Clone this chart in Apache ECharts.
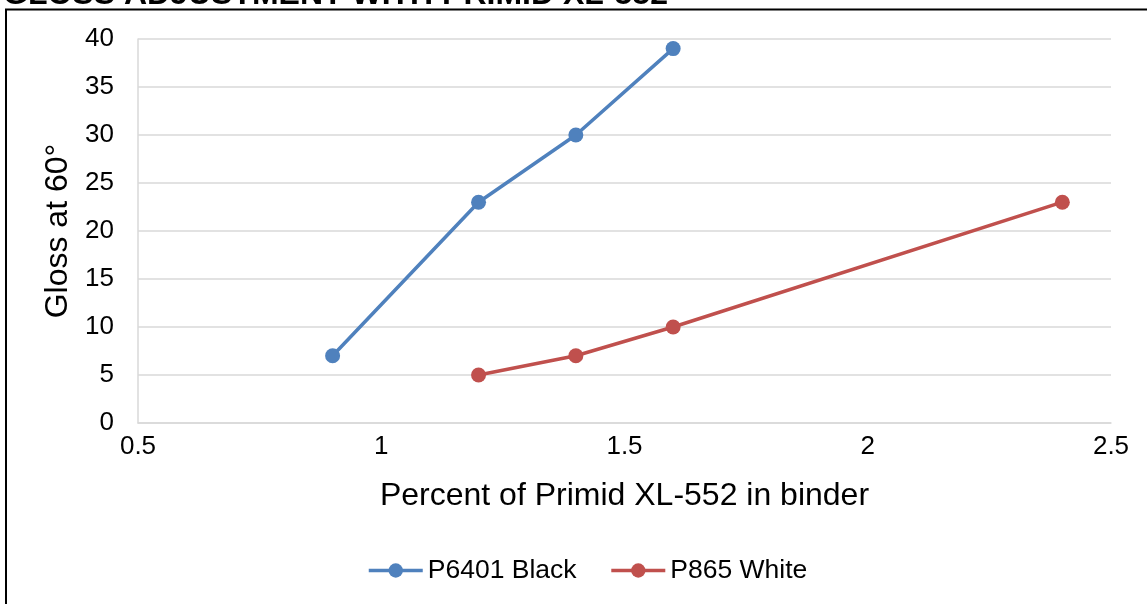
<!DOCTYPE html>
<html>
<head>
<meta charset="utf-8">
<script src="https://cdn.jsdelivr.net/npm/echarts@6/dist/echarts.min.js"></script>
<style>
html,body{margin:0;padding:0;background:#fff;}
#chart{width:1147px;height:604px;}
</style>
</head>
<body>
<div id="chart"></div>
<script>
const titleText = 'GLOSS ADJUSTMENT WITH PRIMID XL-552';
const xAxisName = 'Percent of Primid XL-552 in binder';
const yAxisName = 'Gloss at 60°';
const seriesNames = ['P6401 Black', 'P865 White'];
const blackX = [0.9, 1.2, 1.4, 1.6];
const blackY = [7, 23, 30, 39];
const whiteX = [1.2, 1.4, 1.6, 2.4];
const whiteY = [5, 7, 10, 23];
const colors = ['#4F81BD', '#C0504D'];

const font = 'Liberation Sans, Arial, sans-serif';
const chart = echarts.init(document.getElementById('chart'));
chart.setOption({
  animation: false,
  textStyle: { fontFamily: font },
  graphic: [
    { type: 'rect', shape: { x: 6, y: 9.5, width: 1300, height: 800 },
      style: { fill: 'none', stroke: '#000', lineWidth: 2 }, z: 100 },
    { type: 'text', left: 3, top: -21,
      style: { text: titleText, font: 'bold 32px ' + font, fill: '#000' }, z: 100 }
  ],
  grid: { left: 138, right: 36, top: 39, bottom: 181 },
  legend: {
    bottom: 15, left: 362,
    itemWidth: 54, itemHeight: 18, itemGap: 33,
    lineStyle: { width: 3.5 },
    textStyle: { fontSize: 26.5, color: '#000', fontFamily: font },
    data: seriesNames
  },
  xAxis: {
    type: 'value', min: 0.5, max: 2.5, interval: 0.5,
    name: xAxisName, nameLocation: 'middle', nameGap: 57,
    nameTextStyle: { fontSize: 32, color: '#000', fontFamily: font },
    axisLine: { show: true, lineStyle: { color: '#D9D9D9', width: 1.5 } },
    axisTick: { show: false },
    splitLine: { show: false },
    axisLabel: { fontSize: 26, color: '#000', margin: 11, fontFamily: font }
  },
  yAxis: {
    type: 'value', min: 0, max: 40, interval: 5,
    name: yAxisName, nameLocation: 'middle', nameGap: 59,
    nameTextStyle: { fontSize: 32, color: '#000', fontFamily: font },
    axisLine: { show: true, lineStyle: { color: '#D9D9D9', width: 1.5 } },
    axisTick: { show: false },
    splitLine: { show: true, lineStyle: { color: '#D9D9D9', width: 1.5 } },
    axisLabel: { fontSize: 26, color: '#000', margin: 24, fontFamily: font }
  },
  series: [
    { name: seriesNames[0], type: 'line', data: blackX.map((x, i) => [x, blackY[i]]),
      symbol: 'circle', symbolSize: 15, color: colors[0],
      lineStyle: { width: 3.5, color: colors[0] }, itemStyle: { color: colors[0] } },
    { name: seriesNames[1], type: 'line', data: whiteX.map((x, i) => [x, whiteY[i]]),
      symbol: 'circle', symbolSize: 15, color: colors[1],
      lineStyle: { width: 3.5, color: colors[1] }, itemStyle: { color: colors[1] } }
  ]
});
</script>
</body>
</html>
